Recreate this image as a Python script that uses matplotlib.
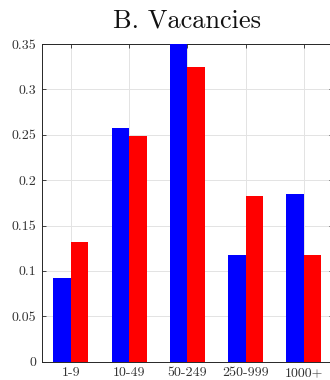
import matplotlib
matplotlib.use("Agg")
import matplotlib.pyplot as plt
import numpy as np

categories = ["1-9", "10-49", "50-249", "250-999", "1000+"]
series_blue = [0.0925, 0.258, 0.36, 0.118, 0.1848]
series_red = [0.132, 0.249, 0.3247, 0.183, 0.117]
yticks = [0, 0.05, 0.1, 0.15, 0.2, 0.25, 0.3, 0.35]
ytick_labels = ["0", "0.05", "0.1", "0.15", "0.2", "0.25", "0.3", "0.35"]

plt.rcParams['font.family'] = ['cmr10', 'DejaVu Serif']
plt.rcParams['axes.formatter.use_mathtext'] = True

fig = plt.figure(figsize=(3.3, 3.8), dpi=100)
ax = fig.add_axes([41.7/330, (380-361.7)/380, 291.25/330, (361.7-44)/380])

x = np.arange(1, len(categories)+1)
w = 0.3
ax.bar(x - w/2, series_blue, width=w, color='#0000ff', edgecolor='none', zorder=3)
ax.bar(x + w/2, series_red, width=w, color='#ff0000', edgecolor='none', zorder=3)

ax.set_xlim(0.5, 5.5)
ax.set_ylim(0, 0.35)
ax.set_xticks(x)
ax.set_xticklabels(categories)
ax.set_yticks(yticks)
ax.set_yticklabels(ytick_labels)
ax.grid(True, color='#e3e3e3', linewidth=0.7, zorder=0)
ax.set_axisbelow(True)
ax.tick_params(direction='in', length=3, width=0.6, color='#262626',
               labelsize=10, labelcolor='#333333', top=True, right=True)
ax.tick_params(axis='x', pad=4)
ax.tick_params(axis='y', pad=4)
for s in ax.spines.values():
    s.set_color('#262626')
    s.set_linewidth(0.7)
ax.set_title("B. Vacancies", fontsize=19, pad=12, color='#111111')

fig.savefig("out.png", dpi=100)
